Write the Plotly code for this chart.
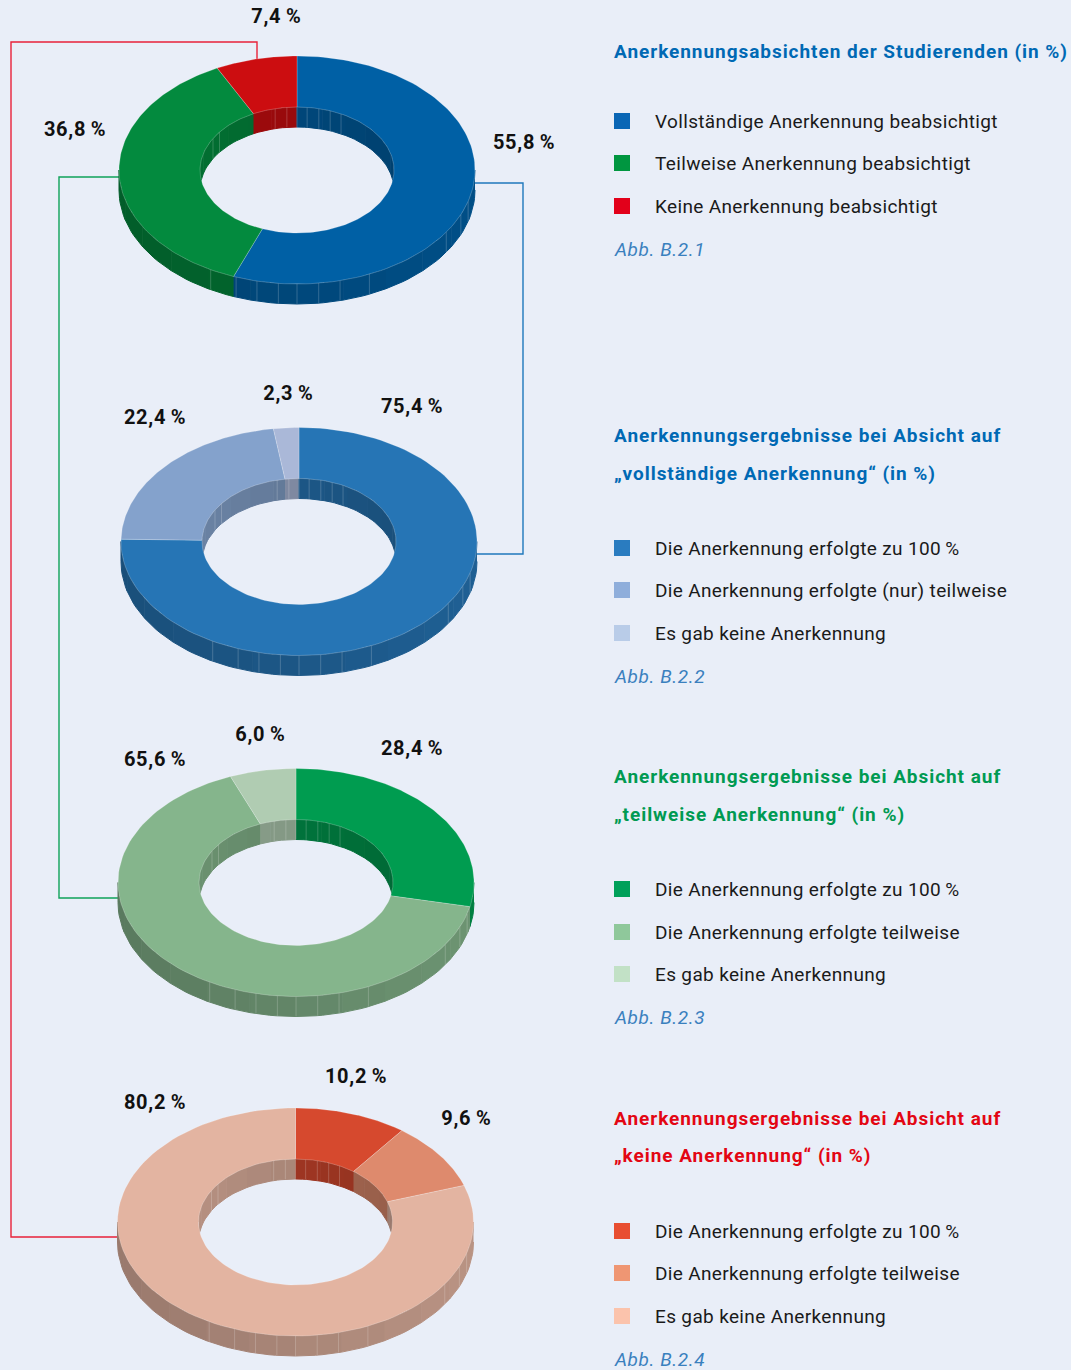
import numpy as np
import plotly.graph_objects as go

W, H = 1071, 1370
BG = "#E9EEF8"
FONT = "Roboto"

# ---- data -------------------------------------------------------------
values_1 = [55.8, 36.8, 7.4]
values_2 = [75.4, 22.4, 2.3]
values_3 = [28.4, 65.6, 6.0]
values_4 = [10.2, 9.6, 80.2]

colors_1 = ["#0060A5", "#038A3E", "#CC0D10"]
colors_2 = ["#2675B5", "#84A2CC", "#AAB8D8"]
colors_3 = ["#009C50", "#85B58C", "#B0CCB2"]
colors_4 = ["#D6492E", "#DE8A6D", "#E3B4A1"]

legend_colors_1 = ["#0A66B5", "#009640", "#E2001A"]
legend_colors_2 = ["#2A7CC0", "#8FAEDB", "#B9CCE8"]
legend_colors_3 = ["#00A05A", "#8FC89B", "#C2E1C6"]
legend_colors_4 = ["#E84E31", "#EF9673", "#FBC3AC"]

legend_1 = ["Vollständige Anerkennung beabsichtigt", "Teilweise Anerkennung beabsichtigt", "Keine Anerkennung beabsichtigt"]
legend_2 = ["Die Anerkennung erfolgte zu 100\u2009%", "Die Anerkennung erfolgte (nur) teilweise", "Es gab keine Anerkennung"]
legend_3 = ["Die Anerkennung erfolgte zu 100\u2009%", "Die Anerkennung erfolgte teilweise", "Es gab keine Anerkennung"]
legend_4 = ["Die Anerkennung erfolgte zu 100\u2009%", "Die Anerkennung erfolgte teilweise", "Es gab keine Anerkennung"]

titles_1 = ["Anerkennungsabsichten der Studierenden (in %)"]
titles_2 = ["Anerkennungsergebnisse bei Absicht auf", "„vollständige Anerkennung“ (in %)"]
titles_3 = ["Anerkennungsergebnisse bei Absicht auf", "„teilweise Anerkennung“ (in %)"]
titles_4 = ["Anerkennungsergebnisse bei Absicht auf", "„keine Anerkennung“ (in %)"]

captions = ["Abb. B.2.1", "Abb. B.2.2", "Abb. B.2.3", "Abb. B.2.4"]

# ---- layout constants ---------------------------------------------------
RX, RY, IRX, IRY, DEPTH = 178, 114, 97, 63, 20
outer_seams = [209, 200, 193, 186, 180, 173, 166, 156, 123, 113, 106]
inner_seams = [300, 307, 347, 354, 360, 366, 373, 380, 387]
STEP = 15.0


def pt(cx, cy, rx, ry, deg):
    t = np.radians(deg)
    return cx + rx * np.sin(t), cy - ry * np.cos(t)


def shade(hex_color, k):
    r, g, b = (int(hex_color[i:i + 2], 16) for i in (1, 3, 5))
    return f"rgb({r * k:.0f},{g * k:.0f},{b * k:.0f})"


def poly(fig, xs, ys, fill, line=None, width=0):
    fig.add_trace(go.Scatter(
        x=xs, y=ys, mode="lines", fill="toself", fillcolor=fill,
        line=dict(color=line or fill, width=width if line else 1),
        hoverinfo="skip", showlegend=False))


def seam(fig, xs, ys):
    fig.add_trace(go.Scatter(
        x=xs, y=ys, mode="lines", line=dict(color="rgba(255,255,255,0.22)", width=0.9),
        hoverinfo="skip", showlegend=False))


def segment_at(edges, colors, deg):
    d = deg % 360
    for i, c in enumerate(colors):
        if edges[i] <= d < edges[i + 1]:
            return c
    return colors[-1]


def donut(fig, cx, cy, values, colors):
    total = sum(values)
    edges = [0.0]
    for v in values:
        edges.append(edges[-1] + v / total * 360)

    # outer wall, lower half
    brk = sorted(set(list(np.arange(90, 270.01, STEP)) + [270.0] +
                     [e for e in edges if 90 < e < 270]))
    for a0, a1 in zip(brk[:-1], brk[1:]):
        mid = (a0 + a1) / 2
        ang = np.linspace(a0, a1, 8)
        x, y = pt(cx, cy, RX, RY, ang)
        k = 0.745 + 0.07 * np.sin(np.radians(mid))
        poly(fig, np.r_[x, x[::-1]], np.r_[y, y[::-1] + DEPTH],
             shade(segment_at(edges, colors, mid), k))
    for a in outer_seams:
        x, y = pt(cx, cy, RX, RY, a)
        seam(fig, [x, x], [y, y + DEPTH])

    # inner wall, upper half
    brk = sorted(set(list(np.arange(270, 450.01, STEP)) + [450.0] +
                     [e for e in edges if 270 < e] + [e + 360 for e in edges if e < 90]))
    for a0, a1 in zip(brk[:-1], brk[1:]):
        mid = (a0 + a1) / 2
        ang = np.linspace(a0, a1, 8)
        x, y = pt(cx, cy, IRX, IRY, ang)
        k = 0.74 - 0.06 * np.sin(np.radians(mid))
        poly(fig, np.r_[x, x[::-1]], np.r_[y, y[::-1] + DEPTH],
             shade(segment_at(edges, colors, mid), k))
    for a in inner_seams:
        x, y = pt(cx, cy, IRX, IRY, a)
        seam(fig, [x, x], [y, y + DEPTH])

    # top surface
    for i, c in enumerate(colors):
        ang = np.linspace(edges[i], edges[i + 1], 120)
        xo, yo = pt(cx, cy, RX, RY, ang)
        xi, yi = pt(cx, cy, IRX, IRY, ang[::-1])
        poly(fig, np.r_[xo, xi, xo[0]], np.r_[yo, yi, yo[0]], c,
             line="rgba(255,255,255,0.30)", width=0.7)


fig = go.Figure()


def leader(xs, ys, color):
    fig.add_trace(go.Scatter(x=xs, y=ys, mode="lines", line=dict(color=color, width=1.4),
                             hoverinfo="skip", showlegend=False))


leader([257, 257, 11, 11, 120], [60, 42, 42, 1237, 1237], "#E8223A")
leader([122, 59, 59, 120], [177, 177, 898, 898], "#0FA35A")
leader([472, 523, 523, 475], [183, 183, 554, 554], "#1F78BC")

donut(fig, 297, 170, values_1, colors_1)
donut(fig, 299, 541.5, values_2, colors_2)
donut(fig, 296, 882.5, values_3, colors_3)
donut(fig, 295.5, 1222, values_4, colors_4)

ann = []


def text(x, y, s, size, color, bold=False, italic=False, anchor="left"):
    t = f"<b>{s}</b>" if bold else s
    t = f"<i>{t}</i>" if italic else t
    ann.append(dict(x=x, y=y, text=t, showarrow=False, xref="x", yref="y",
                    xanchor=anchor, yanchor="middle",
                    font=dict(family=FONT, size=size, color=color)))


value_labels = [
    (values_1, [(276, 16), (75, 129), (524, 142)], [2, 1, 0]),
    (values_2, [(412, 406), (155, 417), (288, 393)], [0, 1, 2]),
    (values_3, [(412, 748), (155, 759), (260, 734)], [0, 1, 2]),
    (values_4, [(356, 1076), (466, 1118), (155, 1102)], [0, 1, 2]),
]
for vals, pos, order in value_labels:
    for (x, y), idx in zip(pos, order):
        s = f"{vals[idx]:.1f}".replace(".", ",") + "\u2009%"
        text(x, y, s, 20, "#111111", bold=True, anchor="center")

BLUE, GREEN, RED = "#0069B4", "#009A52", "#E30613"
CAP = "#3A80BE"
blocks = [
    (titles_1, BLUE, [51], legend_1, legend_colors_1, [121, 163, 206], 249, captions[0]),
    (titles_2, BLUE, [435, 473], legend_2, legend_colors_2, [548, 590, 633], 676, captions[1]),
    (titles_3, GREEN, [776, 814], legend_3, legend_colors_3, [889, 932, 974], 1017, captions[2]),
    (titles_4, RED, [1118, 1155], legend_4, legend_colors_4, [1231, 1273, 1316], 1359, captions[3]),
]
for titles, tc, tys, labels, lcs, lys, cy, cap in blocks:
    for t, y in zip(titles, tys):
        text(612, y, t, 19, tc, bold=True)
    fig.add_trace(go.Scatter(
        x=[622] * 3, y=lys, mode="markers",
        marker=dict(symbol="square", size=16, color=lcs, line=dict(width=0)),
        hoverinfo="skip", showlegend=False))
    for l, y in zip(labels, lys):
        text(653, y, l, 19, "#1A1A1A")
    text(612, cy, cap, 19, CAP, italic=True)

fig.update_layout(
    width=W, height=H, margin=dict(l=0, r=0, t=0, b=0),
    paper_bgcolor=BG, plot_bgcolor=BG, showlegend=False, annotations=ann,
    xaxis=dict(range=[0, W], visible=False, fixedrange=True),
    yaxis=dict(range=[H, 0], visible=False, fixedrange=True),
)

# Page margin off, plus the tracking that the reference's typeface has.
POST = """
document.body.style.margin = '0';
document.body.style.background = '%s';
document.querySelectorAll('text.annotation-text').forEach(function (t) {
  var html = t.innerHTML, isBold = html.indexOf('bold') >= 0, isItalic = html.indexOf('italic') >= 0;
  var isValue = isBold && t.textContent.length < 8;
  var sp = isValue ? 0.7 : isBold ? 0.95 : isItalic ? 0.6 : 0.35;
  var l0 = t.getBBox().x;
  t.style.letterSpacing = sp + 'px';
  if (!isValue) {
    var l1 = t.getBBox().x;
    t.setAttribute('x', parseFloat(t.getAttribute('x')) + l0 - l1);
  }
});
""" % BG
fig.write_html("out.html", config=dict(displayModeBar=False), post_script=POST)
